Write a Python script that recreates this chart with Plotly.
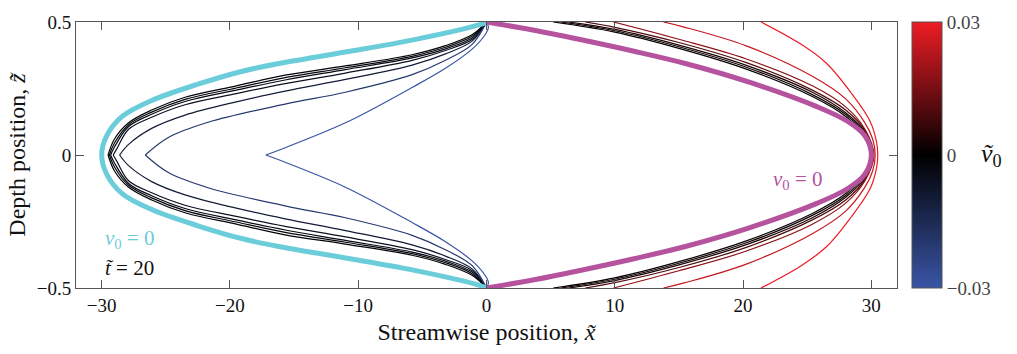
import plotly.graph_objects as go
from plotly.colors import sample_colorscale

# ---------------- data (upper halves; lower halves mirror) -------------
# thick reference curves (v0 = 0)
cyan_x = [0.0, -0.6, -5.8, -11.0, -16.2, -19.1, -22.5, -26.1, -28.4, -29.6, -30.0]
cyan_z = [0.5, 0.489, 0.432, 0.387, 0.344, 0.314, 0.266, 0.205, 0.145, 0.0725, 0.0]

mag_x = [0.0, 3.6, 7.2, 11.5, 15.5, 20.6, 25.8, 28.2, 29.5, 30.0]
mag_z = [0.5, 0.47, 0.435, 0.39, 0.344, 0.272, 0.181, 0.125, 0.072, 0.0]

# left family (negative v0), vertex -> top
left_v0 = [-0.001, -0.002, -0.003, -0.006, -0.01, -0.02, -0.03]
left_x = [
    [-29.5, -29.0, -27.9, -26.1, -23.5, -19.5, -15.7, -11.0, -5.8, -3.2, -1.1, 0.0],
    [-29.4, -29.0, -27.9, -26.1, -23.5, -19.5, -15.7, -11.0, -5.8, -3.2, -1.1, 0.0],
    [-29.3, -29.0, -27.9, -26.1, -23.5, -19.5, -15.7, -11.0, -5.8, -3.2, -1.1, 0.0],
    [-29.1, -28.8, -27.9, -26.1, -23.5, -19.5, -15.7, -11.0, -5.8, -3.2, -1.1, 0.0],
    [-28.6, -27.9, -26.1, -23.5, -19.5, -15.7, -11.0, -5.8, -3.2, -1.1, 0.0],
    [-26.6, -24.8, -21.7, -15.7, -11.0, -5.8, -3.2, -1.1, 0.0],
    [-17.2, -16.2, -11.0, -5.8, -3.2, -1.1, -0.1, 0.15, 0.0],
]
left_z = [
    [0.0, 0.06, 0.121, 0.169, 0.217, 0.26, 0.30, 0.335, 0.377, 0.411, 0.453, 0.5],
    [0.0, 0.045, 0.114, 0.161, 0.209, 0.252, 0.291, 0.328, 0.371, 0.405, 0.447, 0.5],
    [0.0, 0.03, 0.107, 0.153, 0.201, 0.244, 0.282, 0.321, 0.365, 0.399, 0.441, 0.5],
    [0.0, 0.025, 0.097, 0.142, 0.189, 0.231, 0.268, 0.308, 0.356, 0.393, 0.435, 0.5],
    [0.0, 0.04, 0.10, 0.15, 0.20, 0.24, 0.284, 0.338, 0.380, 0.429, 0.5],
    [0.0, 0.066, 0.123, 0.191, 0.236, 0.302, 0.356, 0.417, 0.5],
    [0.0, 0.018, 0.121, 0.254, 0.326, 0.399, 0.453, 0.48, 0.5],
]

# right family (positive v0), top boundary -> vertex
right_v0 = [0.001, 0.002, 0.003, 0.01, 0.018, 0.025, 0.03]
right_x = [
    [5.2, 10.0, 15.0, 20.2, 25.4, 28.0, 29.4, 29.9],
    [5.8, 10.0, 15.0, 20.2, 25.4, 28.0, 29.5, 30.0],
    [6.4, 10.0, 15.0, 20.2, 25.4, 28.0, 29.6, 30.1],
    [7.7, 10.0, 15.0, 20.2, 25.4, 28.0, 29.6, 30.1],
    [9.9, 15.0, 20.2, 25.4, 28.0, 29.5, 30.2],
    [13.8, 15.4, 20.2, 25.4, 28.0, 29.5, 30.1, 30.3],
    [21.4, 24.5, 26.5, 28.4, 29.9, 30.4, 30.5],
]
right_z = [
    [0.5, 0.462, 0.401, 0.324, 0.220, 0.145, 0.075, 0.0],
    [0.5, 0.467, 0.407, 0.331, 0.227, 0.152, 0.078, 0.0],
    [0.5, 0.472, 0.413, 0.338, 0.236, 0.159, 0.08, 0.0],
    [0.5, 0.48, 0.423, 0.348, 0.244, 0.169, 0.085, 0.0],
    [0.5, 0.435, 0.362, 0.26, 0.181, 0.097, 0.0],
    [0.5, 0.481, 0.411, 0.296, 0.211, 0.121, 0.06, 0.0],
    [0.5, 0.417, 0.345, 0.235, 0.127, 0.05, 0.0],
]

x_ticks = [-30, -20, -10, 0, 10, 20, 30]
x_ticktext = ["\u221230", "\u221220", "\u221210", "0", "10", "20", "30"]
z_ticks = [-0.5, 0, 0.5]
z_ticktext = ["\u22120.5", "0", "0.5"]
cb_ticks = [-0.03, 0, 0.03]
cb_ticktext = ["\u22120.03", "0", "0.03"]
v0_min, v0_max = -0.03, 0.03

# ---------------- styling -------------
FONT = "Liberation Serif, Times New Roman, DejaVu Serif, serif"
CSCALE = [[0.0, "#3955a6"], [0.5, "#000000"], [1.0, "#ee1c25"]]
CYAN = "#6ccdda"
MAGENTA = "#b5539f"


def color_for(v):
    t = (v - v0_min) / (v0_max - v0_min)
    return sample_colorscale(CSCALE, [t])[0]


def cusp(xs, zs):
    """upper half (vertex first) and mirrored lower half as two separate smoothed segments"""
    xu = list(reversed(xs))
    zu = list(reversed(zs))
    xl = list(xs)
    zl = [-z for z in zs]
    return xu + [None] + xl, zu + [None] + zl


def smooth(xs, zs):
    """upper half (top first) continued smoothly through the vertex to the lower half"""
    xl = list(reversed(xs[:-1]))
    zl = [-z for z in reversed(zs[:-1])]
    return list(xs) + xl, list(zs) + zl


fig = go.Figure()

for xs, zs, v in zip(right_x, right_z, right_v0):
    X, Z = smooth(xs, zs)
    fig.add_trace(go.Scatter(x=X, y=Z, mode="lines", line=dict(color=color_for(v), width=1.2, shape="spline"),
                             showlegend=False, hoverinfo="skip"))

for xs, zs, v in zip(left_x, left_z, left_v0):
    X, Z = cusp(xs, zs)
    fig.add_trace(go.Scatter(x=X, y=Z, mode="lines", line=dict(color=color_for(v), width=1.2, shape="spline"),
                             showlegend=False, hoverinfo="skip", connectgaps=False))

X, Z = smooth(cyan_x, cyan_z)
fig.add_trace(go.Scatter(x=X, y=Z, mode="lines", line=dict(color=CYAN, width=5, shape="spline"),
                         showlegend=False, hoverinfo="skip"))
X, Z = smooth(mag_x, mag_z)
fig.add_trace(go.Scatter(x=X, y=Z, mode="lines", line=dict(color=MAGENTA, width=5, shape="spline"),
                         showlegend=False, hoverinfo="skip"))

fig.add_trace(go.Scatter(
    x=[None], y=[None], mode="markers", showlegend=False, hoverinfo="skip",
    marker=dict(color=[0], cmin=v0_min, cmax=v0_max, colorscale=CSCALE, showscale=True,
                colorbar=dict(x=1.0183, xanchor="left", xpad=0, y=0.5, yanchor="middle", ypad=0,
                              len=1, lenmode="fraction", thickness=30, outlinewidth=1, outlinecolor="#555555",
                              tickvals=cb_ticks, ticktext=cb_ticktext, ticks="",
                              tickfont=dict(family=FONT, size=19, color="#444444"))),
))

axis_common = dict(showline=True, linecolor="#555555", linewidth=1, mirror="ticks", ticks="inside",
                   ticklen=8, tickcolor="#555555", showgrid=False, zeroline=False,
                   tickfont=dict(family=FONT, size=19, color="#111111"))

fig.update_layout(
    width=1017, height=354,
    margin=dict(l=76, r=120, t=12, b=66),
    plot_bgcolor="white", paper_bgcolor="white",
    font=dict(family=FONT),
    xaxis=dict(range=[-32, 32], tickvals=x_ticks, ticktext=x_ticktext,
               title=dict(text="Streamwise position, <i>x\u0303</i>", font=dict(family=FONT, size=24, color="#111111"),
                          standoff=8),
               **axis_common),
    yaxis=dict(range=[-0.5, 0.5], tickvals=z_ticks, ticktext=z_ticktext,
               title=dict(text="Depth position, <i>z\u0303</i>", font=dict(family=FONT, size=24, color="#111111"),
                          standoff=4),
               **axis_common),
    annotations=[
        dict(x=-27.8, y=-0.315, xref="x", yref="y", text="<i>v</i><sub>0</sub> = 0", showarrow=False,
             font=dict(family=FONT, size=21, color=CYAN)),
        dict(x=-27.8, y=-0.424, xref="x", yref="y", text="<i>t\u0303</i> = 20", showarrow=False,
             font=dict(family=FONT, size=21, color="#111111")),
        dict(x=24.3, y=-0.094, xref="x", yref="y", text="<i>v</i><sub>0</sub> = 0", showarrow=False,
             font=dict(family=FONT, size=21, color=MAGENTA)),
        dict(x=1.13, y=0.5, xref="paper", yref="paper", text="<i>v\u0303</i><sub>0</sub>", showarrow=False,
             font=dict(family=FONT, size=26, color="#111111")),
    ],
)

fig.write_html("out.html")
